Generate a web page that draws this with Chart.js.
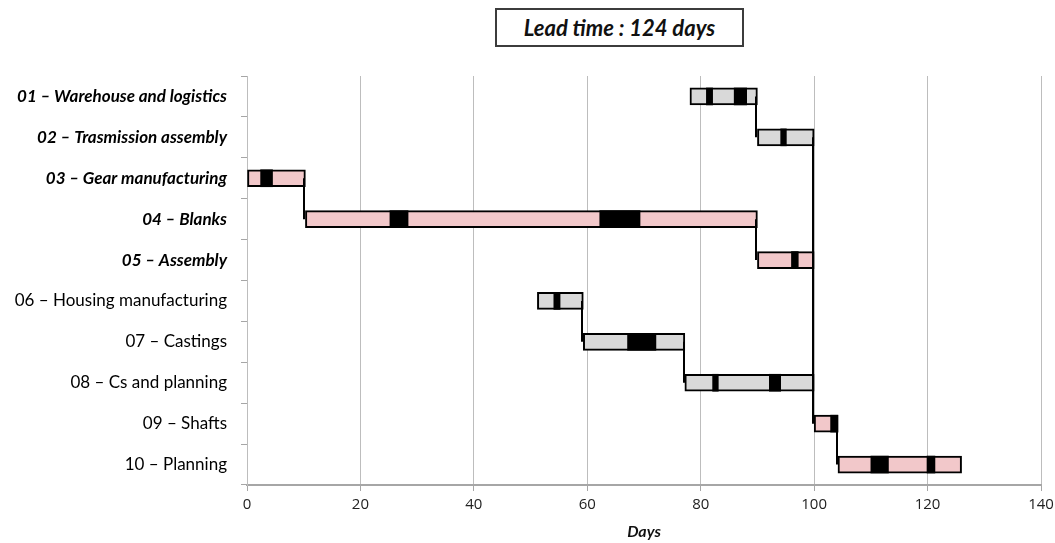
<!DOCTYPE html>
<html>
<head>
<meta charset="utf-8">
<title>Lead time chart</title>
<script src="https://cdn.jsdelivr.net/npm/chart.js@4/dist/chart.umd.min.js"></script>
<style>
  html, body { margin: 0; padding: 0; background: #fff; }
  #wrap { position: relative; width: 1055px; height: 543px; }
  #lead {
    position: absolute; left: 495px; top: 8px; width: 245px; height: 35px;
    border: 2px solid #3c3c3c; background: #fff;
    font: italic bold 22px Lato, "Open Sans", sans-serif; color: #111;
    text-align: center; line-height: 35px;
  }
</style>
</head>
<body>
<div id="wrap">
  <canvas id="chart" width="1055" height="543"></canvas>
  <div id="lead">Lead time : 124 days</div>
</div>
<script>
// Phases of the order, top to bottom
const categories = [
  '01 – Warehouse and logistics',
  '02 – Trasmission assembly',
  '03 – Gear manufacturing',
  '04 – Blanks',
  '05 – Assembly',
  '06 – Housing manufacturing',
  '07 – Castings',
  '08 – Cs and planning',
  '09 – Shafts',
  '10 – Planning'
];
// Start / end day of each phase
const phaseStart = [78.1, 90, 0, 10.3, 90, 51.2, 59.3, 77.2, 100, 104.2];
const phaseEnd   = [90, 100, 10.3, 90, 100, 59.3, 77.2, 100, 104.2, 126];
// Waiting blocks inside each phase (day ranges), null where absent
const firstBlock  = [[81.0, 82.1], [94.1, 95.1], [2.4, 4.5], [25.2, 28.4], [96.0, 97.2],
                     [54.1, 55.2], [67.1, 72.1], [82.1, 83.1], [102.9, 104.2], [110, 113.1]];
const secondBlock = [[85.9, 88.1], null, null, [62.2, 69.3], null,
                     null, null, [92.1, 94.1], null, [119.9, 121.3]];
// Internal (pink) or external (grey) phase
const phaseKind = ['ext', 'ext', 'int', 'int', 'int', 'ext', 'ext', 'ext', 'int', 'int'];
// Dependencies: phase index -> following phase index
const links = [[0, 1], [2, 3], [3, 4], [1, 8], [5, 6], [6, 7], [8, 9]];
// Day axis
const dayMin = 0, dayMax = 140, dayStep = 20;

const kindColor = { int: '#F2C8CA', ext: '#D9D9D9' };
const BAR = 17;

const spans = phaseStart.map((s, i) => [s, phaseEnd[i]]);

const linkPlugin = {
  id: 'phaseLinks',
  afterDatasetsDraw(chart) {
    const meta = chart.getDatasetMeta(0);
    const xs = chart.scales.x;
    const ctx = chart.ctx;
    ctx.save();
    ctx.strokeStyle = '#000';
    ctx.lineWidth = 2;
    links.forEach(([a, b]) => {
      const ea = meta.data[a], eb = meta.data[b];
      const px = Math.round(xs.getPixelForValue(phaseEnd[a])) - 1;
      ctx.beginPath();
      ctx.moveTo(px, ea.y);
      ctx.lineTo(px, eb.y);
      ctx.stroke();
    });
    ctx.restore();
  }
};

new Chart(document.getElementById('chart'), {
  type: 'bar',
  data: {
    labels: categories,
    datasets: [
      {
        label: 'Phase',
        data: spans,
        backgroundColor: phaseKind.map(k => kindColor[k]),
        borderColor: '#000',
        borderWidth: 2,
        borderSkipped: false,
        barThickness: BAR,
        grouped: false,
        order: 3
      },
      {
        label: 'Block 1',
        data: firstBlock,
        backgroundColor: '#000',
        borderWidth: 0,
        barThickness: BAR,
        grouped: false,
        order: 1
      },
      {
        label: 'Block 2',
        data: secondBlock,
        backgroundColor: '#000',
        borderWidth: 0,
        barThickness: BAR,
        grouped: false,
        order: 2
      }
    ]
  },
  options: {
    indexAxis: 'y',
    responsive: false,
    animation: false,
    layout: { padding: { top: 76, right: 14, left: 0, bottom: 0 } },
    plugins: { legend: { display: false }, tooltip: { enabled: false } },
    scales: {
      x: {
        type: 'linear',
        min: dayMin,
        max: dayMax,
        afterFit(scale) { scale.height = 58; scale.paddingRight = 0; scale.paddingLeft = 0; },
        ticks: {
          stepSize: dayStep,
          color: '#222',
          padding: 5,
          font: { family: '"Open Sans", sans-serif', size: 15 }
        },
        grid: { color: '#BDBDBD', lineWidth: 1, tickLength: 6, tickColor: '#A6A6A6' },
        border: { color: '#A6A6A6', width: 2 },
        title: {
          display: true,
          text: 'Days',
          color: '#111',
          padding: { top: 0, bottom: 2 },
          font: { family: 'Lato, "Open Sans", sans-serif', size: 16, weight: 'bold', style: 'italic' }
        }
      },
      y: {
        type: 'category',
        afterFit(scale) { scale.width = 247; },
        ticks: {
          color: '#000',
          padding: 14,
          font: (ctx) => ctx.index < 5
            ? { family: 'Lato, "Open Sans", sans-serif', size: 17, weight: 'bold', style: 'italic' }
            : { family: 'Lato, "Open Sans", sans-serif', size: 17, weight: 'normal', style: 'normal' }
        },
        grid: { drawOnChartArea: false, offset: true, tickLength: 6, color: '#A6A6A6' },
        border: { color: '#BDBDBD', width: 1 }
      }
    }
  },
  plugins: [linkPlugin]
});
</script>
</body>
</html>
